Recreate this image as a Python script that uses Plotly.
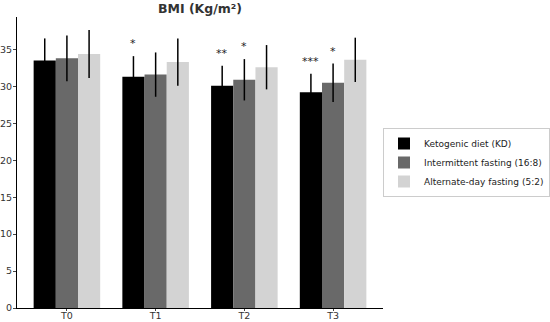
import plotly.graph_objects as go

timepoints = ["T0", "T1", "T2", "T3"]
series_names = ["Ketogenic diet (KD)", "Intermittent fasting (16:8)", "Alternate-day fasting (5:2)"]
kd_mean = [33.5, 31.3, 30.1, 29.2]
kd_sd = [3.0, 2.8, 2.7, 2.5]
if_mean = [33.8, 31.6, 30.9, 30.5]
if_sd = [3.1, 3.0, 2.8, 2.6]
adf_mean = [34.4, 33.3, 32.6, 33.6]
adf_sd = [3.25, 3.2, 3.0, 3.0]
kd_sig = ["", "*", "**", "***"]
if_sig = ["", "", "*", "*"]
colors = ["#000000", "#696969", "#d3d3d3"]

means = [kd_mean, if_mean, adf_mean]
sds = [kd_sd, if_sd, adf_sd]

fig = go.Figure()
for name, m, s, c in zip(series_names, means, sds, colors):
    fig.add_trace(go.Bar(
        x=timepoints, y=m, name=name, marker=dict(color=c, line=dict(width=0)),
        error_y=dict(type="data", array=s, visible=True, color="black", thickness=1.5, width=0),
    ))

offsets = [-0.25, 0.0]
for off, sig, m, s in zip(offsets, [kd_sig, if_sig], means[:2], sds[:2]):
    for i, t in enumerate(sig):
        if t:
            fig.add_annotation(x=i + off, y=m[i] + s[i] + 0.5, text=t, showarrow=False,
                               yanchor="bottom", xanchor="center", xref="x", yref="y",
                               font=dict(size=11, color="#222222", family="DejaVu Sans"))

fig.update_layout(
    width=550, height=322,
    margin=dict(l=17, r=167, t=17, b=14, autoexpand=False),
    paper_bgcolor="white", plot_bgcolor="white",
    barmode="group", bargap=0.25, bargroupgap=0,
    font=dict(family="DejaVu Sans", size=9.5, color="#333333"),
    title=dict(text="<b>BMI (Kg/m²)</b>", x=200/550, xanchor="center", y=1 - 9/322, yanchor="middle",
               font=dict(size=12.5, color="#333333")),
    showlegend=True,
    legend=dict(x=1.0, xanchor="left", y=0.5, yanchor="middle",
                bordercolor="#cccccc", borderwidth=1, font=dict(size=9, color="#222222"),
                bgcolor="white", tracegroupgap=0, itemwidth=30),
)
fig.update_xaxes(type="category", range=[-0.5625, 3.5625], showline=True, linecolor="black", linewidth=1,
                 ticks="outside", ticklen=2, tickcolor="#444444", showgrid=False, ticklabelstandoff=-3,
                 automargin=False)
fig.update_yaxes(range=[0, 39.4], showline=True, linecolor="black", linewidth=1, ticks="outside",
                 ticklen=3, tickcolor="#444444",
                 tickvals=[0, 5, 10, 15, 20, 25, 30, 35], showgrid=False, zeroline=False,
                 ticklabelstandoff=-1, automargin=False)

fig.write_html("out.html", config={"displayModeBar": False},
               post_script="document.body.style.margin='0';document.body.style.padding='0';")
